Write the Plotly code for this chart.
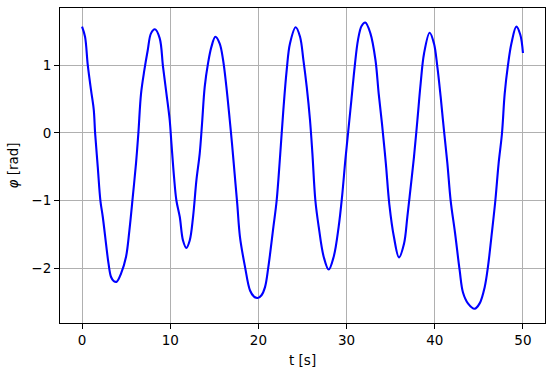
import plotly.graph_objects as go

t_s = [0, 0.34, 0.65, 1.02, 1.33, 1.48, 1.78, 2.08, 2.35, 2.72, 3.0, 3.29, 3.6, 3.93, 4.42, 4.99, 5.37, 5.75,
       6.12, 6.39, 6.69, 7.07, 7.45, 7.82, 8.26, 8.8, 9.18, 9.57, 9.94, 10.14, 10.43, 10.70, 11.08, 11.45,
       11.83, 12.21, 12.59, 12.97, 13.34, 13.61, 13.91, 14.29, 14.67, 15.12, 15.61, 15.99, 16.37, 16.75,
       17.0, 17.3, 17.6, 17.91, 18.48, 19.05, 19.5, 19.92, 20.35, 20.75, 21.13, 21.7, 22.07, 22.45, 22.83,
       23.21, 23.58, 24.23, 24.72, 25.1, 25.48, 25.85, 26.12, 26.46, 26.84, 27.4, 27.97, 28.54, 29.1, 29.48,
       29.86, 30.16, 30.54, 30.92, 31.29, 31.7, 32.12, 32.7, 33.27, 33.64, 34.01, 34.45, 34.85, 35.37, 35.94,
       36.51, 36.89, 37.27, 37.64, 38.03, 38.4, 38.78, 39.42, 39.91, 40.29, 40.67, 41.04, 41.43, 41.8, 42.3,
       42.82, 43.2, 43.76, 44.52, 45.09, 45.66, 46.03, 46.42, 46.87, 47.24, 47.62, 47.93, 48.3, 48.69, 49.25,
       49.7, 50.0]
phi_rad = [1.57, 1.42, 1.0, 0.63, 0.34, 0.0, -0.5, -1.0, -1.24, -1.64, -1.93, -2.13, -2.19, -2.20, -2.08,
           -1.83, -1.44, -0.95, -0.45, 0.0, 0.58, 0.93, 1.22, 1.47, 1.53, 1.40, 0.98, 0.58, 0.19, -0.16, -0.65,
           -1.0, -1.24, -1.59, -1.70, -1.59, -1.24, -0.70, -0.31, 0.14, 0.68, 1.03, 1.27, 1.42, 1.32, 1.08, 0.68,
           0.19, -0.15, -0.6, -1.05, -1.54, -1.98, -2.33, -2.42, -2.44, -2.40, -2.28, -1.98, -1.39, -1.0, -0.36,
           0.34, 0.93, 1.32, 1.56, 1.42, 1.08, 0.68, 0.19, -0.3, -1.0, -1.39, -1.83, -2.02, -1.83, -1.39, -0.95,
           -0.40, -0.01, 0.48, 0.98, 1.37, 1.58, 1.63, 1.47, 1.08, 0.58, 0.14, -0.45, -1.06, -1.54, -1.84, -1.64,
           -1.24, -0.80, -0.36, 0.19, 0.73, 1.17, 1.48, 1.32, 0.98, 0.53, 0.04, -0.45, -1.0, -1.48, -2.03, -2.36,
           -2.52, -2.60, -2.52, -2.28, -1.98, -1.54, -1.0, -0.45, -0.01, 0.58, 1.0, 1.32, 1.57, 1.45, 1.18]

x_ticks = [0, 10, 20, 30, 40, 50]
y_ticks = [-2, -1, 0, 1]
y_tick_text = ["\u22122", "\u22121", "0", "1"]

fig = go.Figure()
fig.add_trace(go.Scatter(x=t_s, y=phi_rad, mode="lines",
                         line=dict(color="#0000ff", width=2.1, shape="spline", smoothing=1.0),
                         showlegend=False))

font = dict(family="DejaVu Sans", size=13.5, color="black")
fig.update_layout(
    width=550, height=371,
    margin=dict(l=60, r=5, t=8, b=48),
    paper_bgcolor="white", plot_bgcolor="white",
    font=font,
)
fig.update_xaxes(
    range=[-2.5, 52.5], tickvals=x_ticks, ticks="outside", ticklen=5, tickwidth=1.1, tickcolor="black",
    showline=True, linecolor="black", linewidth=1.1, mirror=True, automargin=False,
    showgrid=True, gridcolor="#b0b0b0", gridwidth=1.1, zeroline=False, tickfont=font,
)
fig.update_yaxes(
    range=[-2.81, 1.845], tickvals=y_ticks, ticktext=y_tick_text, ticks="outside", ticklen=5, tickwidth=1.1,
    tickcolor="black", showline=True, linecolor="black", linewidth=1.1, mirror=True, automargin=False,
    showgrid=True, gridcolor="#b0b0b0", gridwidth=1.1, zeroline=False, tickfont=font,
)
fig.add_annotation(text="t [s]", xref="paper", yref="paper", x=0.5, y=0, yshift=-36.5,
                   xanchor="center", yanchor="middle", showarrow=False, font=font)
fig.add_annotation(text="<i>φ</i> [rad]", xref="paper", yref="paper", x=0, y=0.5, xshift=-48,
                   xanchor="center", yanchor="middle", textangle=-90, showarrow=False, font=font)

fig.write_html("out.html", config={"displayModeBar": False},
               post_script="document.body.style.margin='0px';document.body.style.overflow='hidden';")
